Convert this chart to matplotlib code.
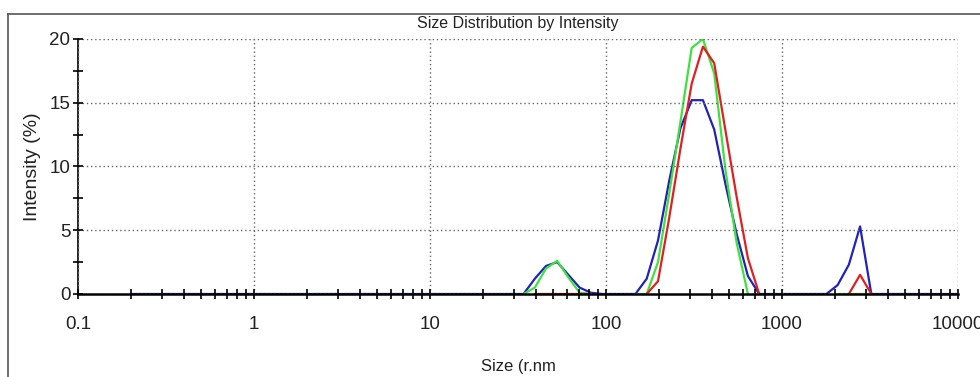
import matplotlib.pyplot as plt
import numpy as np
from matplotlib.ticker import FixedLocator, NullFormatter

plt.rcParams['font.family'] = ['Liberation Sans', 'DejaVu Sans']

# size (r.nm) and intensity (%)
blue_x = [0.2, 34.0, 39.4, 45.6, 52.8, 61.1, 70.8, 82.0, 94.9,
          146.9, 170.3, 197.4, 228.7, 264.7, 306.7, 355.3, 411.8, 477.3, 552.4, 640.1, 741.9,
          1787, 2070, 2397, 2776, 3215, 10000]
blue_y = [0, 0, 1.2, 2.2, 2.5, 1.5, 0.5, 0.1, 0,
          0, 1.2, 4.2, 8.9, 13.0, 15.2, 15.2, 12.9, 8.6, 4.7, 1.4, 0,
          0, 0.7, 2.3, 5.3, 0, 0]

green_x = [34.0, 39.4, 45.6, 52.8, 61.1, 70.8, 82.0, np.nan,
           146.9, 170.3, 197.4, 228.7, 264.7, 306.7, 355.3, 411.8, 477.3, 552.4, 640.1, np.nan,
           2070, 2397, 2776, 3215]
green_y = [0, 0.5, 2.0, 2.6, 1.3, 0.1, 0, np.nan,
           0, 0, 2.5, 7.9, 13.5, 19.3, 20.0, 17.3, 9.7, 4.0, 0, np.nan,
           0, 0, 0, 0]

red_x = [39.4, 45.6, 52.8, 61.1, 70.8, 82.0, np.nan,
         170.3, 197.4, 228.7, 264.7, 306.7, 355.3, 411.8, 477.3, 552.4, 640.1, 741.9, np.nan,
         2397, 2776, 3215]
red_y = [0, 0, 0, 0, 0, 0, np.nan,
         0, 1.0, 6.0, 11.4, 16.5, 19.4, 18.1, 12.8, 7.6, 2.8, 0, np.nan,
         0, 1.5, 0]

fig = plt.figure(figsize=(9.8, 3.77), dpi=100)
ax = fig.add_axes([0.0796, 0.2202, 0.898, 0.6764])

ax.plot(blue_x, blue_y, color='#2222bb', lw=1.6, zorder=2)
ax.plot(green_x, green_y, color='#40e040', lw=1.6, zorder=2.1)
ax.plot(red_x, red_y, color='#e02020', lw=1.6, zorder=2.2)

ax.set_xscale('log')
ax.set_xlim(0.1, 10000)
ax.set_ylim(0, 20)
ax.set_xticks([0.1, 1, 10, 100, 1000, 10000])
ax.set_xticklabels(['0.1', '1', '10', '100', '1000', '10000'])
ax.xaxis.set_minor_locator(FixedLocator([m * 10.0 ** e for e in range(-1, 4) for m in range(2, 10)]))
ax.xaxis.set_minor_formatter(NullFormatter())
ax.set_yticks([0, 5, 10, 15, 20])
ax.set_yticks([2.5, 7.5, 12.5, 17.5], minor=True)

ax.tick_params(axis='both', which='both', direction='inout', length=7, width=1.2,
               color='black', labelsize=13.5, pad=2, labelcolor='#222222')
ax.tick_params(axis='x', which='major', pad=12)

ax.spines['top'].set_visible(False)
ax.spines['right'].set_visible(False)
ax.spines['left'].set_linewidth(1.2)
ax.spines['bottom'].set_linewidth(1.8)
ax.set_axisbelow(False)
ax.grid(True, which='major', linestyle=(0, (1, 2)), color='#666666', linewidth=1.0)

ax.set_title('Size Distribution by Intensity', fontsize=11.5, pad=8, color='#222222')
ax.set_xlabel('Size (r.nm', fontsize=12, labelpad=19, color='#222222')
ax.set_ylabel('Intensity (%)', fontsize=14, labelpad=6, color='#222222')

# outer frame of the original report
fig.add_artist(plt.Line2D([8 / 980, 8 / 980], [0, 1 - 14 / 377], color='#555555', lw=1.2))
fig.add_artist(plt.Line2D([8 / 980, 1], [1 - 14 / 377, 1 - 14 / 377], color='#555555', lw=1.2))

fig.savefig('out.png', dpi=100)
